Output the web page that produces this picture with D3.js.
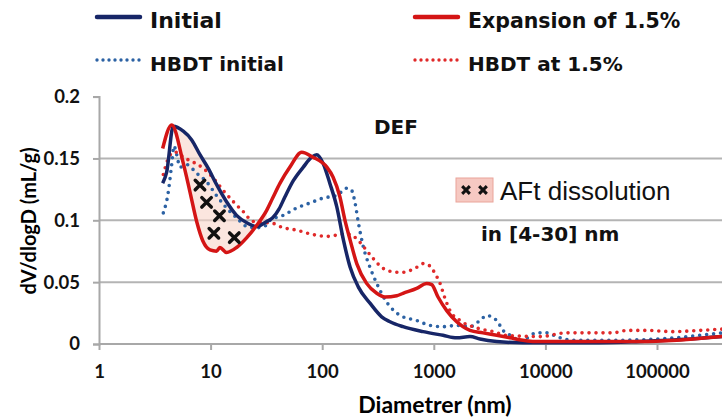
<!DOCTYPE html>
<html>
<head>
<meta charset="utf-8">
<script src="https://cdn.jsdelivr.net/npm/d3@7"></script>
<style>
  body { margin: 0; background: #fff; }
  svg text { font-family: "DejaVu Sans", sans-serif; }
</style>
</head>
<body>
<div id="chart"></div>
<script>
// diameters in nm, dV/dlogD in mL/g
var initialD = [3.72, 4.04, 4.63, 5.69, 6.77, 8.03, 9.53, 11.3, 13.9, 17.1, 21.1, 25.9, 31.8, 36, 41, 46.4, 55.1, 67.7, 80.5, 89.3, 102, 117, 135, 155, 178, 211, 268, 341, 405, 530, 805, 1209, 1604, 2110, 2592, 3661, 6296, 30000, 70000, 200000, 382000, 600000];
var initialV = [0.130, 0.139, 0.176, 0.172, 0.165, 0.153, 0.142, 0.129, 0.115, 0.104, 0.098, 0.095, 0.099, 0.102, 0.109, 0.119, 0.132, 0.143, 0.151, 0.153, 0.146, 0.130, 0.111, 0.084, 0.062, 0.046, 0.033, 0.022, 0.018, 0.014, 0.010, 0.007, 0.005, 0.006, 0.004, 0.002, 0.001, 0.001, 0.002, 0.004, 0.006, 0.007];

var expansionD = [3.72, 4.48, 5.66, 6.53, 7.5, 8.55, 9.88, 11.3, 12.1, 13.9, 17.1, 21.1, 25.9, 31.8, 36, 41.9, 51.4, 65.5, 82.7, 110, 125, 144, 160, 178, 204, 250, 308, 365, 465, 530, 703, 864, 958, 1091, 1305, 1604, 2110, 2760, 3661, 4818, 6296, 8000, 20000, 70000, 150000, 382000, 600000];
var expansionV = [0.158, 0.177, 0.147, 0.123, 0.099, 0.083, 0.076, 0.075, 0.078, 0.074, 0.078, 0.086, 0.096, 0.108, 0.118, 0.130, 0.143, 0.155, 0.151, 0.143, 0.135, 0.119, 0.100, 0.084, 0.065, 0.049, 0.041, 0.038, 0.039, 0.041, 0.045, 0.049, 0.048, 0.038, 0.027, 0.018, 0.011, 0.009, 0.007, 0.005, 0.003, 0.002, 0.002, 0.002, 0.003, 0.006, 0.007];

var hbdtInitD = [3.77, 4.18, 4.48, 4.7, 4.97, 5.32, 6.11, 7.5, 9.23, 11.3, 13.9, 17.1, 21.1, 25.9, 31.8, 34.1, 44.8, 59.1, 77.8, 102, 135, 166, 184, 197, 211, 233, 268, 308, 365, 465, 530, 703, 925, 1209, 1604, 2110, 2592, 2979, 3661, 4169, 5125, 5920, 8350, 10280, 12630, 17670, 40000, 100000, 242600, 382000, 600000];
var hbdtInitV = [0.106, 0.123, 0.145, 0.160, 0.153, 0.143, 0.145, 0.138, 0.131, 0.120, 0.110, 0.102, 0.095, 0.094, 0.096, 0.100, 0.104, 0.110, 0.114, 0.118, 0.120, 0.126, 0.124, 0.114, 0.098, 0.079, 0.062, 0.049, 0.036, 0.025, 0.022, 0.019, 0.015, 0.014, 0.015, 0.014, 0.019, 0.023, 0.019, 0.011, 0.006, 0.002, 0.009, 0.009, 0.006, 0.003, 0.003, 0.004, 0.007, 0.009, 0.010];

var hbdtExpD = [3.77, 4.18, 4.63, 4.97, 5.69, 7.0, 8.6, 10.6, 13.0, 16.0, 19.6, 24.1, 29.7, 34.1, 44.8, 59.1, 77.8, 110, 135, 166, 204, 233, 287, 353, 465, 530, 703, 805, 925, 1025, 1137, 1259, 1397, 1718, 2422, 3415, 4500, 8950, 15520, 40350, 53550, 80900, 139000, 242600, 382000, 600000];
var hbdtExpV = [0.137, 0.150, 0.155, 0.155, 0.151, 0.147, 0.142, 0.134, 0.124, 0.115, 0.107, 0.099, 0.098, 0.098, 0.094, 0.092, 0.089, 0.087, 0.088, 0.089, 0.085, 0.079, 0.069, 0.061, 0.058, 0.058, 0.062, 0.065, 0.063, 0.057, 0.049, 0.037, 0.027, 0.019, 0.013, 0.010, 0.007, 0.006, 0.009, 0.009, 0.011, 0.011, 0.010, 0.011, 0.012, 0.013];

// crosses marking AFt dissolution
var crossD = [8.03, 9.2, 12.0, 10.7, 16.3];
var crossV = [0.1285, 0.1145, 0.1037, 0.0895, 0.086];

var xTicks = [1, 10, 100, 1000, 10000, 100000];
var yTicks = [0, 0.05, 0.1, 0.15, 0.2];

var svgWidth = 722;
var svgHeight = 419;

var svg = d3.select("#chart")
    .append("svg")
        .attr("width", svgWidth)
        .attr("height", svgHeight);

var xScale = d3.scaleLog()
    .domain([1, 1000000])
    .range([99, 99 + 6 * 111.6]);

var yScale = d3.scaleLinear()
    .domain([0, 0.2])
    .range([344, 96.6]);

svg.append("clipPath")
    .attr("id", "plotClip")
  .append("rect")
    .attr("x", 99)
    .attr("y", 80)
    .attr("width", svgWidth - 99)
    .attr("height", 270);

// gridlines
svg.append("g")
    .selectAll("line")
    .data([0.05, 0.1, 0.15])
    .join("line")
        .attr("x1", 99)
        .attr("x2", svgWidth)
        .attr("y1", d => yScale(d))
        .attr("y2", d => yScale(d))
        .attr("stroke", "#b4b4b4")
        .attr("stroke-width", 2);

// y axis
var yAxis = d3.axisLeft(yScale)
    .tickValues(yTicks)
    .tickFormat(d3.format("~g"))
    .tickSize(6)
    .tickPadding(13);

var yAxisG = svg.append("g")
    .attr("transform", "translate(99, 0)")
    .call(yAxis);

// x axis
var xAxis = d3.axisBottom(xScale)
    .tickValues(xTicks)
    .tickFormat(d3.format("d"))
    .tickSize(6)
    .tickPadding(15);

var xAxisG = svg.append("g")
    .attr("transform", "translate(0, 344)")
    .call(xAxis);

xAxisG.select(".domain").remove();
xAxisG.append("line")
    .attr("x1", 99)
    .attr("x2", svgWidth)
    .attr("stroke", "#a8a8a8")
    .attr("stroke-width", 2);

[yAxisG, xAxisG].forEach(function (g) {
    g.selectAll(".domain").attr("stroke", "#a8a8a8").attr("stroke-width", 2);
    g.selectAll(".tick line").attr("stroke", "#a8a8a8").attr("stroke-width", 2);
    g.selectAll(".tick text")
        .attr("fill", "#111")
        .style("font-family", "Lato, sans-serif")
        .style("font-weight", "bold")
        .style("font-size", "18.5px");
});

// axis titles
svg.append("text")
    .attr("x", 435)
    .attr("y", 413)
    .attr("text-anchor", "middle")
    .style("font-family", "Lato, sans-serif")
    .style("font-weight", "bold")
    .style("font-size", "23px")
    .text("Diametrer (nm)");

svg.append("text")
    .attr("transform", "translate(36, 221) rotate(-90)")
    .attr("text-anchor", "middle")
    .style("font-family", "Lato, sans-serif")
    .style("font-weight", "bold")
    .style("font-size", "20px")
    .text("dV/dlogD (mL/g)");

var plot = svg.append("g").attr("clip-path", "url(#plotClip)");

// shaded zone between the two solid curves
var zone = [];
initialD.forEach(function (d, i) {
    if (d >= 4.6 && d <= 32) zone.push([d, initialV[i]]);
});
expansionD.slice().reverse().forEach(function (d, j) {
    var i = expansionD.length - 1 - j;
    if (d >= 4.6 && d <= 32) zone.push([d, expansionV[i]]);
});

plot.append("path")
    .attr("d", d3.line().x(d => xScale(d[0])).y(d => yScale(d[1]))(zone) + "Z")
    .attr("fill", "#f8d5ca")
    .attr("fill-opacity", 0.6);

var line = d3.line()
    .x(d => xScale(d[0]))
    .y(d => yScale(d[1]))
    .curve(d3.curveMonotoneX);

function series(D, V) {
    return D.map((d, i) => [d, V[i]]);
}

plot.append("path")
    .attr("d", line(series(hbdtInitD, hbdtInitV)))
    .attr("fill", "none")
    .attr("stroke", "#2c62a4")
    .attr("stroke-width", 3.6)
    .attr("stroke-linecap", "round")
    .attr("stroke-dasharray", "0 7");

plot.append("path")
    .attr("d", line(series(hbdtExpD, hbdtExpV)))
    .attr("fill", "none")
    .attr("stroke", "#e02a2a")
    .attr("stroke-width", 3.6)
    .attr("stroke-linecap", "round")
    .attr("stroke-dasharray", "0 7");

plot.append("path")
    .attr("d", line(series(initialD, initialV)))
    .attr("fill", "none")
    .attr("stroke", "#172667")
    .attr("stroke-width", 3.5);

plot.append("path")
    .attr("d", line(series(expansionD, expansionV)))
    .attr("fill", "none")
    .attr("stroke", "#d41515")
    .attr("stroke-width", 3.5);

// crosses
var cross = d3.symbol().type(d3.symbolX).size(60);
plot.selectAll(".cross")
    .data(crossD)
    .join("path")
        .attr("class", "cross")
        .attr("d", cross)
        .attr("transform", (d, i) => `translate(${xScale(d)}, ${yScale(crossV[i])})`)
        .attr("stroke", "#111")
        .attr("stroke-width", 3.5)
        .attr("stroke-linecap", "round");

// legend
var legend = [
    { label: "Initial", x: 97, y: 17, color: "#172667", dotted: false, size: 22 },
    { label: "Expansion of 1.5%", x: 415, y: 17, color: "#d41515", dotted: false, size: 20.5 },
    { label: "HBDT initial", x: 97, y: 60, color: "#2c62a4", dotted: true, size: 20 },
    { label: "HBDT at 1.5%", x: 415, y: 60, color: "#e02a2a", dotted: true, size: 20 }
];

var legendG = svg.append("g")
    .selectAll("g")
    .data(legend)
    .join("g");

legendG.append("line")
    .attr("x1", d => d.x)
    .attr("x2", d => d.x + 43)
    .attr("y1", d => d.y)
    .attr("y2", d => d.y)
    .attr("stroke", d => d.color)
    .attr("stroke-width", d => d.dotted ? 3.4 : 4.5)
    .attr("stroke-linecap", "round")
    .attr("stroke-dasharray", d => d.dotted ? "0 6" : null);

legendG.append("text")
    .attr("x", d => d.x + 53)
    .attr("y", d => d.y + 11)
    .style("font-weight", "bold")
    .style("font-size", d => d.size + "px")
    .attr("fill", "#111")
    .text(d => d.label);

// annotations
svg.append("text")
    .attr("x", 374)
    .attr("y", 134)
    .style("font-weight", "bold")
    .style("font-size", "20px")
    .attr("fill", "#111")
    .text("DEF");

svg.append("rect")
    .attr("x", 456)
    .attr("y", 178)
    .attr("width", 37)
    .attr("height", 24)
    .attr("fill", "#f6c9c2")
    .attr("stroke", "#eaa49a")
    .attr("stroke-width", 1);

svg.selectAll(".keycross")
    .data([466, 483])
    .join("path")
        .attr("class", "keycross")
        .attr("d", d3.symbol().type(d3.symbolX).size(40))
        .attr("transform", d => `translate(${d}, 190)`)
        .attr("stroke", "#111")
        .attr("stroke-width", 3);

svg.append("text")
    .attr("x", 500)
    .attr("y", 200)
    .style("font-family", "Liberation Sans, Arial, sans-serif")
    .style("font-size", "26px")
    .attr("fill", "#111")
    .text("AFt dissolution");

svg.append("text")
    .attr("x", 481)
    .attr("y", 241)
    .style("font-weight", "bold")
    .style("font-size", "20px")
    .attr("fill", "#111")
    .text("in [4-30] nm");
</script>
</body>
</html>
